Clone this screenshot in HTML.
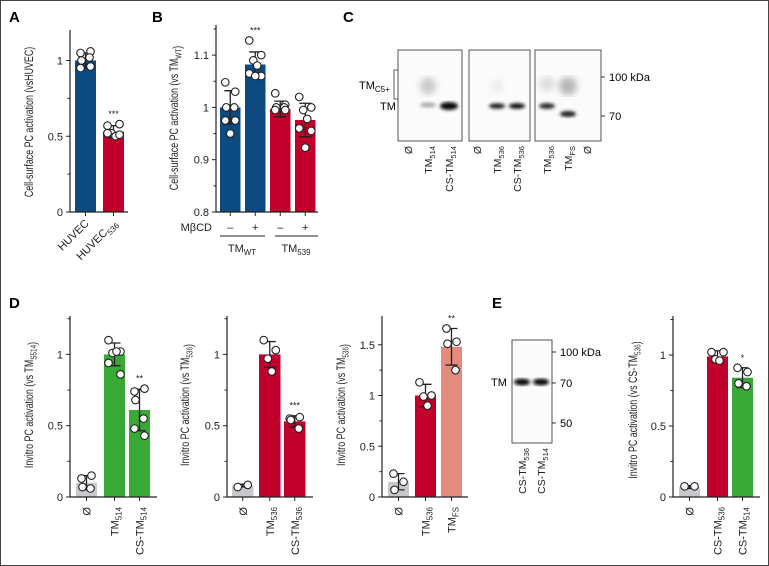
<!DOCTYPE html>
<html><head><meta charset="utf-8">
<style>
html,body{margin:0;padding:0;background:#fff}
svg{display:block;font-family:"Liberation Sans",sans-serif}
</style></head>
<body>
<svg id="fig" width="769" height="566" viewBox="0 0 769 566">
<defs>
<filter id="blur2"><feGaussianBlur stdDeviation="1.6"/></filter>
<filter id="blur4"><feGaussianBlur stdDeviation="3.5"/></filter>
</defs>
<rect x="0.5" y="0.5" width="768" height="565" fill="#fff" stroke="#444"/>
<g font-weight="bold" font-size="15">
<text x="9" y="22">A</text>
<text x="152" y="22">B</text>
<text x="343" y="22">C</text>
<text x="9" y="308">D</text>
<text x="492" y="308">E</text>
</g>

<g>
<rect x="398" y="50" width="64" height="91" fill="#fbfbfb" stroke="#555"/>
<rect x="469" y="50" width="61" height="91" fill="#fbfbfb" stroke="#555"/>
<rect x="535" y="50" width="66" height="91" fill="#fbfbfb" stroke="#555"/>
<g filter="url(#blur4)">
<ellipse cx="428" cy="86" rx="8" ry="9" fill="#aaa" opacity="0.6"/>
<ellipse cx="497" cy="86" rx="7" ry="7" fill="#e4e4e4" opacity="0.6"/>
<ellipse cx="547" cy="84" rx="8" ry="7" fill="#bbb" opacity="0.5"/>
<ellipse cx="568" cy="86" rx="9" ry="9" fill="#999" opacity="0.7"/>
</g>
<g filter="url(#blur2)">
<ellipse cx="428" cy="105" rx="8" ry="2.5" fill="#aaa"/>
<ellipse cx="449" cy="106" rx="9" ry="4" fill="#111"/>
<ellipse cx="497" cy="106" rx="8" ry="2.8" fill="#222"/>
<ellipse cx="517" cy="106" rx="8" ry="2.8" fill="#111"/>
<ellipse cx="547" cy="106" rx="8" ry="3" fill="#333"/>
<ellipse cx="568" cy="114" rx="8" ry="3" fill="#222"/>
</g>
<path d="M398,70 H394 V99 H398" fill="none" stroke="#333" stroke-width="0.8"/>
<text x="359" y="89" font-size="11">TM<tspan font-size="8" dy="3">C5+</tspan></text>
<text x="380" y="110" font-size="11">TM</text>
<line x1="601" y1="77" x2="605" y2="77" stroke="#333"/>
<line x1="601" y1="116" x2="605" y2="116" stroke="#333"/>
<text x="609" y="81" font-size="11">100 kDa</text>
<text x="609" y="120" font-size="11">70</text>
<g font-size="10" id="cLanes"></g>
</g>

<g>
<rect x="512" y="340" width="40" height="103" fill="#fbfbfb" stroke="#555"/>
<g filter="url(#blur2)">
<ellipse cx="522" cy="382" rx="8" ry="3.5" fill="#111"/>
<ellipse cx="541" cy="382" rx="8" ry="3.5" fill="#111"/>
</g>
<text x="491" y="386" font-size="11">TM</text>
<line x1="552" y1="352" x2="556" y2="352" stroke="#333"/>
<line x1="552" y1="383" x2="556" y2="383" stroke="#333"/>
<line x1="552" y1="423" x2="556" y2="423" stroke="#333"/>
<text x="560" y="356" font-size="11">100 kDa</text>
<text x="560" y="387" font-size="11">70</text>
<text x="560" y="427" font-size="11">50</text>
<g font-size="10" id="eLanes"></g>
</g>
<g id="charts"></g>
</svg>

<script>
// ---- data arrays ----
const catsA = ["HUVEC", "HUVEC|536"];
const valsA = [1.0, 0.53];
const errA = [0.05, 0.04];
const ptsA = [[1.05, 1.06, 1.0, 1.02, 0.95, 0.96], [0.57, 0.58, 0.52, 0.50, 0.52, 0.51]];
const ticksA = [0, 0.5, 1];

const catsB = ["-", "+", "-", "+"];
const valsB = [1.0, 1.082, 0.997, 0.976];
const errB = [0.032, 0.024, 0.015, 0.032];
const ptsB = [[1.048, 1.03, 1.0, 1.0, 0.975, 0.975, 0.95], [1.128, 1.1, 1.09, 1.08, 1.065, 1.06, 1.06], [1.027, 1.005, 1.0, 1.0, 0.995, 0.995], [1.02, 1.0, 0.995, 0.978, 0.96, 0.955, 0.923]];
const ticksB = [0.8, 0.9, 1, 1.1];

const catsD1 = ["Ø", "TM|514", "CS-TM|514"];
const valsD1 = [0.1, 1.0, 0.61];
const errD1 = [0.05, 0.08, 0.145];
const ptsD1 = [[0.13, 0.15, 0.07, 0.06], [1.1, 1.02, 1.01, 1.02, 0.94, 0.86], [0.74, 0.76, 0.68, 0.55, 0.48, 0.43]];
const ticksD1 = [0, 0.5, 1];

const catsD2 = ["Ø", "TM|536", "CS-TM|536"];
const valsD2 = [0.08, 1.0, 0.53];
const errD2 = [0.01, 0.09, 0.04];
const ptsD2 = [[0.07, 0.085], [1.1, 1.03, 0.97, 0.88], [0.55, 0.56, 0.54, 0.48]];
const ticksD2 = [0, 0.5, 1];

const catsD3 = ["Ø", "TM|536", "TM|FS"];
const valsD3 = [0.15, 1.0, 1.48];
const errD3 = [0.08, 0.11, 0.18];
const ptsD3 = [[0.23, 0.15, 0.07], [1.13, 1.0, 0.99, 0.9], [1.66, 1.53, 1.51, 1.25]];
const ticksD3 = [0, 0.5, 1, 1.5];

const catsE = ["Ø", "CS-TM|536", "CS-TM|514"];
const valsE = [0.07, 0.99, 0.84];
const errE = [0.01, 0.04, 0.07];
const ptsE = [[0.075, 0.075], [1.02, 1.02, 0.97, 0.96], [0.91, 0.88, 0.80, 0.78]];
const ticksE = [0, 0.5, 1];

const NS = "http://www.w3.org/2000/svg";
function mk(tag, attrs, parent) {
  const e = document.createElementNS(NS, tag);
  for (const k in attrs) e.setAttribute(k, attrs[k]);
  if (parent) parent.appendChild(e);
  return e;
}
function subText(parent, str, attrs, fs) {
  const t = mk("text", attrs, parent);
  const [main, sub] = str.split("|");
  t.appendChild(document.createTextNode(main));
  if (sub) { const s = mk("tspan", { "font-size": fs * 0.72, dy: fs * 0.28 }, t); s.textContent = sub; }
  return t;
}
const root = document.getElementById("charts");
const offs = [[-5, 5, -4, 4, -5, 5, 0], [-6, 6, -2, 2, -6, 6, 0]];

function chart(cfg) {
  const g = mk("g", {}, root);
  
  
  const y = v => cfg.y0 - (v - cfg.vmin) * cfg.scale;
  const ax = mk("line", { x1: cfg.ax, y1: cfg.top, x2: cfg.ax, y2: cfg.y0, stroke: "#222", "stroke-width": 1.2 }, g);
  
  
  cfg.ticks.forEach((t, i) => {
    mk("line", { x1: cfg.ax - 4, y1: y(t), x2: cfg.ax, y2: y(t), stroke: "#222" }, g);
    if (i < cfg.ticks.length - 1 || cfg.minorTop) {
      const m = t + cfg.step / 2;
      if (y(m) > cfg.top) mk("line", { x1: cfg.ax - 2.5, y1: y(m), x2: cfg.ax, y2: y(m), stroke: "#222" }, g);
    }
    const tl = mk("text", { x: cfg.ax - 7, y: y(t) + 4, "font-size": 11, "text-anchor": "end", fill: "#222" }, g);
    tl.textContent = String(t);
    
    
  });
  const ylab = subText(g, cfg.ylabel, { x: 0, y: 0, "font-size": 12, "text-anchor": "middle", transform: `translate(${cfg.lx},${cfg.ly}) rotate(-90) scale(0.74,1)`, fill: "#222" }, 12);
  if (cfg.ylabelEnd) { ylab.appendChild(document.createTextNode(cfg.ylabelEnd)); }
  
  
  cfg.vals.forEach((v, i) => {
    const x0 = cfg.bx[i], w = cfg.bw, cx = x0 + w / 2;
    const bar = mk("rect", { x: x0, y: y(v), width: w, height: cfg.y0 - y(v), fill: cfg.colors[i] }, g);
    
    
    const e = cfg.err[i];
    mk("path", { d: `M${cx},${y(v + e)}V${y(v - e)}M${cx - 6},${y(v + e)}h12M${cx - 6},${y(v - e)}h12`, stroke: "#222", "stroke-width": 1.3, fill: "none" }, g);
    cfg.pts[i].forEach((p, j) => {
      const o = offs[i % 2][j % 7];
      const dot = mk("circle", { cx: cx + o, cy: y(p), r: 3.8, fill: "#fff", stroke: "#222", "stroke-width": 1.1 }, g);
      
      
    });
    if (cfg.stars && cfg.stars[i]) {
      const topV = Math.max(v + e, ...cfg.pts[i]);
      const s = mk("text", { x: cx, y: y(topV) - 7, "font-size": 9, "text-anchor": "middle", fill: "#222" }, g);
      s.textContent = cfg.stars[i];
      
      
    }
    mk("line", { x1: cx, y1: cfg.y0, x2: cx, y2: cfg.y0 + 4, stroke: "#222" }, g);
    if (cfg.catMode === "rot90") {
      const t = subText(g, cfg.cats[i], { x: 0, y: 0, "font-size": 11, "text-anchor": "end", transform: `translate(${cx + 4},${cfg.y0 + 10}) rotate(-90)`, fill: "#222" }, 11);
      
      
    } else if (cfg.catMode === "rot45") {
      const t = subText(g, cfg.cats[i], { x: 0, y: 0, "font-size": 11, "text-anchor": "end", transform: `translate(${cx + 4},${cfg.y0 + 12}) rotate(-45)`, fill: "#222" }, 11);
      
      
    } else {
      const t = mk("text", { x: cx, y: cfg.y0 + 19, "font-size": 11, "text-anchor": "middle", fill: "#222" }, g);
      t.textContent = cfg.cats[i] === "-" ? "–" : "+";
      
      
    }
  });
  mk("line", { x1: cfg.ax, y1: cfg.y0, x2: cfg.bend, y2: cfg.y0, stroke: "#222", "stroke-width": 1.2 }, g);
  return g;
}
const BLUE = "#0c4a80", RED = "#c0002a", GREEN = "#38a935", GRAY = "#c9c9cd", SALMON = "#e38b7c";

chart({ name: "chart-a", ax: 70, top: 30, y0: 212, vmin: 0, scale: 151.5, step: 0.5, ticks: ticksA, minorTop: true,
  vals: valsA, err: errA, pts: ptsA, cats: catsA, bx: [75, 103], bw: 21, bend: 128, colors: [BLUE, RED],
  stars: ["", "***"], catMode: "rot45", ylabel: "Cell-surface PC activation (vsHUVEC)", lx: 33, ly: 122 });

chart({ name: "chart-b", ax: 216, top: 25, y0: 212, vmin: 0.8, scale: 523, step: 0.1, ticks: ticksB, minorTop: true,
  vals: valsB, err: errB, pts: ptsB, cats: catsB, bx: [220, 245, 270, 295], bw: 20.5, bend: 318, colors: [BLUE, BLUE, RED, RED],
  stars: ["", "***", "", ""], catMode: "pm", ylabel: "Cell-surface PC activation (vs TM|WT", ylabelEnd: ")", lx: 178, ly: 118 });

chart({ name: "chart-d1", ax: 70, top: 316, y0: 497, vmin: 0, scale: 142.6, step: 0.5, ticks: ticksD1, minorTop: true,
  vals: valsD1, err: errD1, pts: ptsD1, cats: catsD1, bx: [76, 104, 129], bw: 21, bend: 157, colors: [GRAY, GREEN, GREEN],
  stars: ["", "", "**"], catMode: "rot90", ylabel: "Invitro PC activation (vs TM|S514", ylabelEnd: ")", lx: 33, ly: 405 });

chart({ name: "chart-d2", ax: 227, top: 316, y0: 497, vmin: 0, scale: 142.6, step: 0.5, ticks: ticksD2, minorTop: true,
  vals: valsD2, err: errD2, pts: ptsD2, cats: catsD2, bx: [232, 259, 284], bw: 21.5, bend: 313, colors: [GRAY, RED, RED],
  stars: ["", "", "***"], catMode: "rot90", ylabel: "Invitro PC activation (vs TM|536", ylabelEnd: ")", lx: 189, ly: 405 });

chart({ name: "chart-d3", ax: 382, top: 316, y0: 497, vmin: 0, scale: 101.5, step: 0.5, ticks: ticksD3, minorTop: false,
  vals: valsD3, err: errD3, pts: ptsD3, cats: catsD3, bx: [388, 415, 441], bw: 21, bend: 468, colors: [GRAY, RED, SALMON],
  stars: ["", "", "**"], catMode: "rot90", ylabel: "Invitro PC activation (vs TM|536", ylabelEnd: ")", lx: 345, ly: 405 });

chart({ name: "chart-e", ax: 673, top: 316, y0: 497, vmin: 0, scale: 142, step: 0.5, ticks: ticksE, minorTop: true,
  vals: valsE, err: errE, pts: ptsE, cats: catsE, bx: [679, 707, 732], bw: 21, bend: 760, colors: [GRAY, RED, GREEN],
  stars: ["", "", "*"], catMode: "rot90", ylabel: "Invitro PC activation (vs CS-TM|536", ylabelEnd: ")", lx: 637, ly: 410 });

const fig = document.getElementById("charts");
const mb = mk("text", { x: 212, y: 231, "font-size": 11, "text-anchor": "end", fill: "#222" }, fig);
mb.textContent = "MβCD";


mk("line", { x1: 220, y1: 236, x2: 265, y2: 236, stroke: "#222" }, fig);
mk("line", { x1: 275, y1: 236, x2: 318, y2: 236, stroke: "#222" }, fig);
const g1 = subText(fig, "TM|WT", { x: 242, y: 252, "font-size": 11, "text-anchor": "middle", fill: "#222" }, 11);


const g2 = subText(fig, "TM|539", { x: 296, y: 252, "font-size": 11, "text-anchor": "middle", fill: "#222" }, 11);



const cLaneNames = ["Ø", "TM|514", "CS-TM|514", "Ø", "TM|536", "CS-TM|536", "TM|536", "TM|FS", "Ø"];
const cLaneX = [408, 428, 449, 477, 497, 517, 547, 568, 587];
const cl = document.getElementById("cLanes");
cLaneNames.forEach((n, i) => {
  const t = subText(cl, n, { x: 0, y: 0, "font-size": 10.5, "text-anchor": "end", transform: `translate(${cLaneX[i] + 4},${146}) rotate(-90)`, fill: "#222" }, 10.5);
  
  
});
const eLaneNames = ["CS-TM|536", "CS-TM|514"];
const eLaneX = [522, 541];
const el = document.getElementById("eLanes");
eLaneNames.forEach((n, i) => {
  const t = subText(el, n, { x: 0, y: 0, "font-size": 10.5, "text-anchor": "end", transform: `translate(${eLaneX[i] + 4},${448}) rotate(-90)`, fill: "#222" }, 10.5);
  
  
});
</script>
</body></html>
